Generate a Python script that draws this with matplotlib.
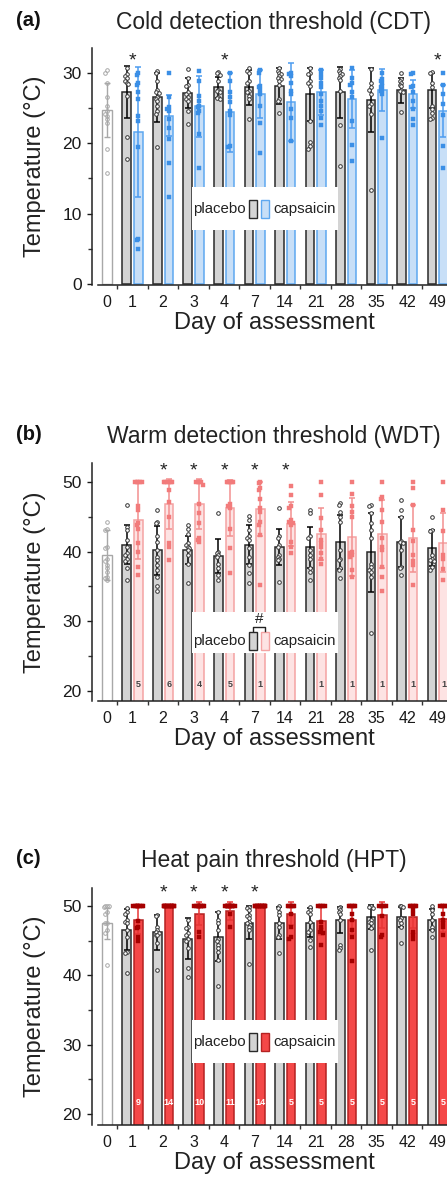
import numpy as np
import matplotlib
matplotlib.use('Agg')
import matplotlib.pyplot as plt
from matplotlib.patches import Rectangle
from matplotlib.lines import Line2D

plt.rcParams['font.family'] = ['Liberation Sans', 'DejaVu Sans']

W, H, DPI = 447, 1177, 100

# ---------------- data ----------------
day_labels = ['0', '1', '2', '3', '4', '7', '14', '21', '28', '35', '42', '49']

# Cold detection threshold (CDT)
cdt_day0_mean, cdt_day0_sd = 24.7, 3.9
cdt_day0_pts = [30.4, 30.0, 28.6, 26.5, 25.3, 24.5, 24.1, 23.9, 23.4, 22.8, 19.2, 15.8]
cdt_pla_mean = [27.3, 26.5, 27.1, 27.9, 27.9, 28.1, 26.9, 27.2, 26.1, 27.5, 27.5]
cdt_pla_sd = [3.7, 3.5, 2.1, 1.5, 2.5, 2.5, 3.7, 3.6, 4.5, 1.8, 2.5]
cdt_cap_mean = [21.6, 23.9, 25.2, 24.4, 27.0, 25.8, 27.2, 26.3, 27.5, 27.0, 24.6]
cdt_cap_sd = [9.2, 2.9, 4.3, 5.6, 3.4, 5.5, 3.2, 4.1, 3.0, 2.0, 3.7]
cdt_pla_pts = [
    [30.6, 29.8, 29.5, 29.2, 28.8, 28.6, 28.4, 26.7, 20.8, 17.7],
    [30.2, 30.0, 28.8, 27.5, 27.3, 27.1, 26.5, 26.2, 26.0, 25.3, 24.6, 24.2, 19.4],
    [30.5, 29.3, 28.2, 28.1, 27.2, 26.9, 26.5, 26.2, 26.0, 24.6, 22.7],
    [30.1, 30.0, 29.7, 28.8, 27.6, 27.4, 27.2, 26.5, 26.4, 26.2],
    [30.6, 30.3, 30.0, 28.8, 28.6, 27.4, 27.2, 26.7, 26.2, 23.4],
    [30.6, 30.2, 30.0, 29.8, 29.5, 29.3, 29.1, 28.8, 28.3, 26.2, 26.0, 24.3],
    [30.6, 30.0, 29.8, 28.8, 28.6, 28.1, 23.2, 20.1, 19.6, 19.2],
    [30.5, 30.2, 30.0, 29.8, 29.5, 29.3, 29.0, 27.4, 22.5, 16.7],
    [30.5, 28.6, 27.9, 27.6, 26.9, 25.5, 25.3, 24.1, 13.3],
    [30.0, 29.1, 28.8, 28.6, 28.3, 28.1, 27.6, 27.4, 27.2, 24.4],
    [30.1, 29.9, 28.6, 28.0, 25.3, 24.8, 24.3, 23.6, 23.4],
]
cdt_cap_pts = [
    [30.0, 29.6, 28.6, 28.3, 27.2, 26.2, 23.8, 23.2, 19.4, 6.4, 6.2, 5.0],
    [30.0, 26.5, 25.1, 24.8, 24.5, 23.4, 22.2, 20.6, 17.2, 12.3],
    [30.2, 28.8, 26.7, 26.0, 25.3, 25.1, 24.6, 24.3, 21.3, 16.5],
    [30.0, 28.8, 27.2, 26.5, 25.8, 24.6, 24.0, 19.6, 19.5],
    [30.4, 30.0, 28.1, 27.9, 27.6, 26.9, 25.3, 22.9, 18.6],
    [30.0, 29.8, 29.5, 28.6, 27.4, 26.9, 24.8, 23.6, 20.3],
    [30.4, 29.8, 29.3, 28.6, 28.0, 26.9, 26.0, 25.3, 24.6, 23.6, 22.5],
    [30.7, 29.3, 28.6, 28.3, 27.2, 26.5, 23.2, 19.7, 17.5],
    [29.9, 29.1, 28.8, 28.6, 28.1, 27.9, 27.6, 27.4, 26.9, 20.7],
    [30.0, 29.8, 28.1, 27.9, 27.2, 26.0, 24.8, 23.4, 22.5],
    [30.0, 28.3, 27.0, 25.5, 24.0, 19.6, 16.5],
]
cdt_sig = [1, 0, 0, 1, 0, 0, 0, 0, 0, 0, 1]

# Warm detection threshold (WDT)
wdt_day0_mean, wdt_day0_sd = 39.5, 3.6
wdt_day0_pts = [44.3, 43.3, 43.1, 40.7, 40.5, 39.0, 38.6, 38.1, 37.6, 37.1, 36.4, 36.2, 35.9]
wdt_pla_mean = [41.0, 40.2, 40.2, 39.4, 41.0, 40.7, 40.6, 41.4, 39.9, 41.4, 40.5]
wdt_pla_sd = [2.8, 3.5, 2.0, 2.4, 2.8, 2.6, 2.9, 3.9, 5.7, 3.6, 2.6]
wdt_cap_mean = [44.5, 46.9, 46.9, 46.3, 46.1, 44.0, 42.5, 42.1, 42.5, 41.9, 41.3]
wdt_cap_sd = [5.5, 3.6, 3.6, 4.0, 3.9, 3.2, 3.7, 5.6, 4.9, 4.8, 4.2]
wdt_pla_pts = [
    [46.7, 43.6, 43.1, 41.7, 40.7, 39.8, 39.5, 39.0, 38.6, 37.6, 35.9],
    [46.0, 44.3, 44.1, 42.2, 41.4, 40.2, 39.3, 38.8, 38.1, 37.4, 36.4, 35.0, 34.3],
    [43.8, 43.3, 42.6, 41.2, 40.9, 40.7, 40.5, 40.2, 39.5, 38.3, 35.5],
    [45.5, 40.0, 39.8, 39.5, 39.3, 38.3, 37.6, 36.7, 35.9],
    [45.1, 44.5, 43.1, 42.2, 41.9, 41.7, 40.5, 39.3, 38.1, 36.9, 35.5],
    [46.2, 42.2, 41.9, 41.0, 40.7, 39.5, 39.3, 39.0, 38.8, 35.7],
    [46.0, 45.5, 42.2, 41.9, 40.2, 39.5, 39.0, 37.6, 37.1, 35.9],
    [47.0, 46.7, 45.7, 45.0, 44.3, 40.2, 39.0, 38.8, 37.6, 37.4, 36.2],
    [46.7, 46.5, 45.6, 44.1, 43.1, 41.9, 38.3, 37.8, 37.4, 37.1, 36.4, 28.3],
    [47.4, 46.0, 45.0, 41.5, 41.4, 41.2, 40.2, 37.8, 37.6, 36.7],
    [45.0, 43.1, 42.9, 39.5, 39.0, 38.8, 38.6, 37.8, 37.4],
]
wdt_cap_pts = [
    [50.0, 50.0, 50.0, 50.0, 50.0, 46.5, 46.0, 44.1, 43.8, 43.3, 41.2, 40.0, 37.8, 36.7],
    [50.0, 50.0, 50.0, 50.0, 50.0, 50.0, 48.9, 47.2, 45.0, 41.2, 40.7, 38.8],
    [50.0, 50.0, 50.0, 50.0, 49.6, 46.9, 45.5, 44.1, 41.9, 41.7, 41.4],
    [50.0, 50.0, 50.0, 50.0, 50.0, 46.9, 46.5, 46.2, 43.3, 40.5, 36.9],
    [50.0, 49.8, 49.1, 48.9, 47.6, 46.2, 45.7, 44.2, 43.8, 42.4, 35.2],
    [49.4, 48.1, 46.5, 46.2, 44.5, 44.3, 44.1, 43.8, 41.4, 40.7, 39.8],
    [50.0, 48.1, 44.8, 43.1, 41.7, 41.2, 40.7, 39.8, 39.0, 38.3],
    [50.0, 48.3, 46.5, 45.7, 45.0, 40.0, 39.8, 39.5, 39.3, 37.4, 36.4],
    [50.0, 47.8, 47.6, 46.0, 44.3, 41.9, 40.7, 40.2, 37.8, 36.4, 34.3],
    [50.0, 49.1, 46.7, 43.1, 41.5, 39.5, 38.6, 38.1, 35.2],
    [50.0, 46.0, 43.0, 39.5, 39.0, 37.5, 36.0],
]
wdt_sig = [0, 1, 1, 1, 1, 1, 0, 0, 0, 0, 0]
wdt_cutoff_n = [5, 6, 4, 5, 1, 0, 1, 1, 1, 1, 1]

# Heat pain threshold (HPT)
hpt_day0_mean, hpt_day0_sd = 47.5, 2.2
hpt_day0_pts = [50.0, 50.0, 50.0, 49.9, 49.2, 48.9, 47.5, 47.5, 46.5, 46.1, 41.5]
hpt_pla_mean = [46.6, 46.2, 45.3, 45.6, 47.6, 47.6, 47.6, 48.0, 48.4, 48.4, 48.0]
hpt_pla_sd = [2.9, 2.5, 2.9, 3.6, 2.4, 2.3, 2.1, 1.9, 1.7, 1.5, 1.5]
hpt_cap_mean = [48.0, 50.0, 48.9, 49.3, 50.0, 48.9, 47.9, 48.0, 48.7, 48.4, 48.1]
hpt_cap_sd = [2.1, 0.0, 1.7, 1.3, 0.0, 1.7, 2.1, 2.0, 1.9, 1.6, 1.9]
hpt_pla_pts = [
    [49.7, 49.2, 48.9, 48.0, 47.7, 47.5, 46.5, 45.6, 43.4, 43.2, 40.3],
    [48.7, 48.5, 47.0, 46.5, 46.3, 46.1, 45.8, 45.8, 44.6, 40.8],
    [48.0, 47.0, 46.8, 46.1, 45.8, 45.3, 45.0, 43.9, 41.0, 39.8],
    [49.2, 48.0, 47.5, 46.5, 45.3, 44.9, 44.4, 43.9, 43.4, 42.2, 38.5],
    [49.9, 49.7, 49.4, 48.7, 48.5, 48.2, 47.7, 47.5, 47.3, 47.0, 46.5, 41.7],
    [50.0, 49.7, 49.2, 48.7, 47.5, 47.0, 45.8, 45.6, 43.2],
    [49.9, 49.4, 49.2, 48.9, 47.7, 46.5, 46.3, 45.1, 44.1],
    [49.9, 49.7, 49.4, 49.2, 48.9, 48.0, 44.4, 43.9, 43.7],
    [50.0, 49.9, 49.7, 48.0, 47.7, 47.5, 46.8, 43.7],
    [50.0, 50.0, 49.9, 48.2, 48.0, 47.6, 47.0, 44.6],
    [50.0, 49.4, 48.9, 48.0, 47.0, 46.5, 45.6],
]
hpt_cap_pts = [
    [50.0, 50.0, 50.0, 50.0, 50.0, 50.0, 50.0, 50.0, 50.0, 47.8, 47.0, 46.8, 45.5, 44.9],
    [50.0, 50.0, 50.0, 50.0, 50.0, 50.0, 50.0, 50.0, 50.0, 50.0, 50.0, 50.0, 50.0, 50.0],
    [50.0, 50.0, 50.0, 50.0, 50.0, 50.0, 50.0, 50.0, 50.0, 50.0, 46.3, 45.6],
    [50.0, 50.0, 50.0, 50.0, 50.0, 50.0, 50.0, 50.0, 50.0, 50.0, 50.0, 48.9, 47.0],
    [50.0, 50.0, 50.0, 50.0, 50.0, 50.0, 50.0, 50.0, 50.0, 50.0, 50.0, 50.0, 50.0, 50.0],
    [50.0, 50.0, 50.0, 50.0, 50.0, 48.9, 47.0, 45.6, 45.3],
    [50.0, 50.0, 50.0, 50.0, 50.0, 47.7, 47.0, 46.5, 46.3, 46.1, 44.4],
    [50.0, 50.0, 50.0, 50.0, 50.0, 48.9, 48.0, 46.5, 45.6, 42.0],
    [50.0, 50.0, 50.0, 50.0, 50.0, 48.5, 45.8, 45.6],
    [50.0, 50.0, 50.0, 50.0, 50.0, 49.4, 48.9, 46.3, 45.8, 45.3],
    [50.0, 50.0, 50.0, 50.0, 50.0, 48.9, 48.0, 47.5, 47.0, 45.8],
]
hpt_sig = [0, 1, 1, 1, 1, 0, 0, 0, 0, 0, 0]
hpt_cutoff_n = [9, 14, 10, 11, 14, 5, 5, 5, 5, 5, 5]

# ---------------- styles ----------------
PLA_FACE, PLA_EDGE = '#d4d4d4', '#2a2a2a'
D0_EDGE = '#a8a8a8'
styles = {
    'a': dict(face='#c8dff7', edge='#5ea8f0', pt='#3b8fe6', err='#4d9cf0'),
    'b': dict(face='#fde3e3', edge='#f4a3a3', pt='#f27b7b', err='#f39090'),
    'c': dict(face='#f44848', edge='#b52222', pt='#a50000', err='#e83535'),
}

fig = plt.figure(figsize=(W / DPI, H / DPI), dpi=DPI)
fig.patch.set_facecolor('white')


def fx(x):
    return x / W


def fy(y):
    return 1 - y / H


def swarm(center, vals, d=0.055, thr=0.5):
    order = np.argsort(vals)[::-1]
    slots = [0, -1, 1, -2, 2, -3, 3]
    placed = []
    xs = np.zeros(len(vals))
    for idx in order:
        v = vals[idx]
        used = [s for (pv, s) in placed if abs(pv - v) < thr]
        choice = None
        for s in slots:
            if s not in used:
                choice = s
                break
        if choice is None:
            choice = slots[len(used) % len(slots)]
        placed.append((v, choice))
        xs[idx] = center + choice * d
    return xs


XMIN, XMAX = -0.328, 11.6
DAY0_X = 0.164
OFF, BW = 0.19, 0.28


def panel(top_px, bot_px, ylim, yticks, key, d0m, d0s, d0p, pm, ps, pp, cm, cs, cp,
          sig, sig_y, thr):
    st = styles[key]
    ax = fig.add_axes([fx(92), fy(bot_px), fx(364), (bot_px - top_px) / H])
    xs = np.arange(1, 12)
    # day 0
    ax.bar(DAY0_X, d0m, width=0.30, color='white', edgecolor=D0_EDGE, linewidth=1.0, zorder=2)
    ax.errorbar(DAY0_X, d0m, yerr=d0s, color=D0_EDGE, capsize=2.2, elinewidth=1.0,
                capthick=1.0, zorder=3, fmt='none')
    ax.plot(swarm(DAY0_X, np.array(d0p), thr=thr), d0p, 'o', ms=2.6, mfc='none',
            mec=D0_EDGE, mew=0.7, zorder=4, clip_on=False)
    # placebo
    ax.bar(xs - OFF, pm, width=BW, color=PLA_FACE, edgecolor=PLA_EDGE, linewidth=1.1, zorder=2)
    ax.errorbar(xs - OFF, pm, yerr=ps, color='black', capsize=2.2, elinewidth=1.1,
                capthick=1.1, zorder=3, fmt='none')
    for i in range(11):
        v = np.array(pp[i])
        ax.plot(swarm(xs[i] - OFF, v, thr=thr), v, 'o', ms=2.6, mfc='white', mec='#333333',
                mew=0.7, zorder=4)
    # capsaicin
    ax.bar(xs + OFF, cm, width=BW, color=st['face'], edgecolor=st['edge'], linewidth=1.1, zorder=2)
    ax.errorbar(xs + OFF, cm, yerr=cs, color=st['err'], capsize=2.2, elinewidth=1.1,
                capthick=1.1, zorder=3, fmt='none')
    for i in range(11):
        v = np.array(cp[i])
        ax.plot(swarm(xs[i] + OFF, v, thr=thr), v, 's', ms=2.2, mfc=st['pt'], mec=st['pt'],
                mew=0.3, zorder=4)
    # significance stars
    for i in range(11):
        if sig[i]:
            ax.text(xs[i], sig_y, '*', ha='center', va='center', fontsize=14, color='#222222')
    ax.set_xlim(XMIN, XMAX)
    ax.set_ylim(*ylim)
    ax.set_yticks(yticks)
    ax.set_yticks([t + 5 for t in yticks[:-1]] + [yticks[0] - 5] if False else
                  [t + 5 for t in yticks[:-1]], minor=True)
    ax.set_xticks([DAY0_X] + list(xs))
    ax.set_xticklabels(day_labels)
    ax.set_xticks(np.arange(0.5, 12.0, 1.0), minor=True)
    ax.tick_params(axis='x', which='major', length=0, pad=7, labelsize=11.5, colors='#1a1a1a')
    ax.tick_params(axis='x', which='minor', length=3, width=1.0, direction='out', color='#333333')
    ax.tick_params(axis='y', which='major', length=3.5, width=1.0, pad=4, labelsize=12.5,
                   colors='#1a1a1a')
    ax.tick_params(axis='y', which='minor', length=3, width=1.0, color='#333333')
    for s in ['top', 'right']:
        ax.spines[s].set_visible(False)
    ax.spines['left'].set_linewidth(1.1)
    ax.spines['bottom'].set_linewidth(1.1)
    ax.spines['left'].set_color('#222222')
    ax.spines['bottom'].set_color('#222222')
    ax.spines['bottom'].set_bounds(-0.131, XMAX)
    ax.set_facecolor('none')
    return ax


ax_a = panel(48, 285, (-0.15, 33.5), [0, 10, 20, 30], 'a', cdt_day0_mean, cdt_day0_sd,
             cdt_day0_pts, cdt_pla_mean, cdt_pla_sd, cdt_pla_pts, cdt_cap_mean, cdt_cap_sd,
             cdt_cap_pts, cdt_sig, 31.7, 0.5)
ax_b = panel(463, 701, (18.56, 52.73), [20, 30, 40, 50], 'b', wdt_day0_mean, wdt_day0_sd,
             wdt_day0_pts, wdt_pla_mean, wdt_pla_sd, wdt_pla_pts, wdt_cap_mean, wdt_cap_sd,
             wdt_cap_pts, wdt_sig, 51.6, 0.5)
ax_c = panel(888, 1125, (18.4, 52.6), [20, 30, 40, 50], 'c', hpt_day0_mean, hpt_day0_sd,
             hpt_day0_pts, hpt_pla_mean, hpt_pla_sd, hpt_pla_pts, hpt_cap_mean, hpt_cap_sd,
             hpt_cap_pts, hpt_sig, 51.9, 0.5)

# cutoff counts inside capsaicin bars
for i, n in enumerate(wdt_cutoff_n):
    if n:
        ax_b.text(i + 1 + OFF, 20.9, str(n), ha='center', va='center', fontsize=6.5,
                  fontweight='bold', color='#444444', zorder=5)
for i, n in enumerate(hpt_cutoff_n):
    if n:
        ax_c.text(i + 1 + OFF, 21.6, str(n), ha='center', va='center', fontsize=6.5,
                  fontweight='bold', color='white', zorder=5)

# titles, labels
titles = [('(a)', 'Cold detection threshold (CDT)', 22, 48, 285),
          ('(b)', 'Warm detection threshold (WDT)', 437, 463, 701),
          ('(c)', 'Heat pain threshold (HPT)', 861, 888, 1125)]
for lab, title, ty, top, bot in titles:
    fig.text(fx(16), fy(ty - 2), lab, ha='left', va='center', fontsize=14.5,
             fontweight='bold', color='#111111')
    fig.text(fx(274), fy(ty), title, ha='center', va='center', fontsize=16.5, color='#222222')
    fig.text(fx(35), fy((top + bot) / 2), 'Temperature (°C)', rotation=90, ha='center',
             va='center', fontsize=17, color='#222222')
    fig.text(fx(274), fy(bot + 38), 'Day of assessment', ha='center', va='center',
             fontsize=17, color='#222222')

# legends
legend_boxes = [('a', 187, 230), ('b', 612, 653), ('c', 1020, 1063)]
for key, y0, y1 in legend_boxes:
    st = styles[key]
    fig.add_artist(Rectangle((fx(192), fy(y1)), fx(146), (y1 - y0) / H,
                             transform=fig.transFigure, facecolor='white', edgecolor='none',
                             zorder=10))
    yc = y1 - 21 if key != 'b' else y1 - 12
    fig.text(fx(193), fy(yc), 'placebo', ha='left', va='center', fontsize=10.8,
             color='#222222', zorder=11)
    fig.text(fx(273), fy(yc), 'capsaicin', ha='left', va='center', fontsize=10.8,
             color='#222222', zorder=11)
    fig.add_artist(Rectangle((fx(249), fy(yc + 9)), fx(8), 18 / H, transform=fig.transFigure,
                             facecolor=PLA_FACE, edgecolor=PLA_EDGE, linewidth=1.0, zorder=11))
    fig.add_artist(Rectangle((fx(261), fy(yc + 9)), fx(7.5), 18 / H, transform=fig.transFigure,
                             facecolor=st['face'], edgecolor=st['edge'], linewidth=1.0, zorder=11))

# '#' bracket in panel b legend
fig.add_artist(Line2D([fx(253), fx(253), fx(265), fx(265)], [fy(631), fy(627), fy(627), fy(631)],
                      transform=fig.transFigure, color='#222222', linewidth=1.0, zorder=12))
fig.text(fx(259), fy(619), '#', ha='center', va='center', fontsize=11, color='#222222', zorder=12)

fig.savefig('out.png', dpi=DPI, facecolor='white')
